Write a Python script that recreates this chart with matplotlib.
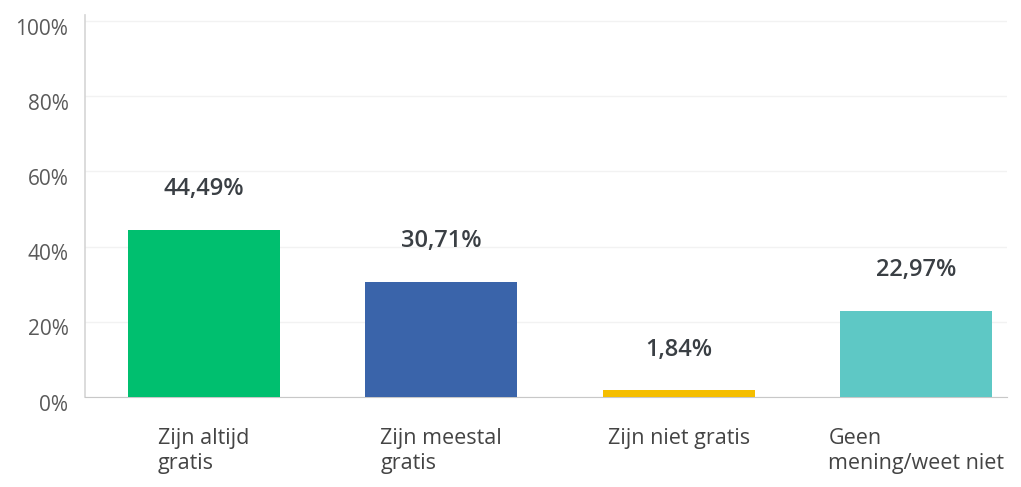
import matplotlib.pyplot as plt
import matplotlib.transforms as mtransforms

categories = ['Zijn altijd\ngratis', 'Zijn meestal\ngratis', 'Zijn niet gratis', 'Geen\nmening/weet niet']
values = [44.49, 30.71, 1.84, 22.97]
value_labels = ['44,49%', '30,71%', '1,84%', '22,97%']
colors = ['#00BF6F', '#3A64AA', '#F5BE00', '#5EC8C5']
y_ticks = [0, 20, 40, 60, 80, 100]


def main():
    plt.rcParams['font.family'] = ['Open Sans', 'DejaVu Sans']
    fig = plt.figure(figsize=(10.21, 4.87), dpi=100)
    ax = fig.add_axes([0.0833, 0.1848, 0.9026, 0.7836])

    x = list(range(len(categories)))
    ax.bar(x, values, width=0.64, color=colors, zorder=3)

    for xi, v, lab in zip(x, values, value_labels):
        ax.annotate(lab, (xi, v), xytext=(0, 29), textcoords='offset points',
                    ha='center', va='center', fontsize=17, fontweight='semibold',
                    color='#3A3F44')

    ax.set_xlim(-0.5, 3.38)
    ax.set_ylim(0, 101.5)
    ax.set_yticks(y_ticks)
    ax.set_yticklabels([f'{t}%' for t in y_ticks], fontsize=15, color='#5A5A5A')
    ax.set_xticks(x)
    ax.set_xticklabels(categories, fontsize=15.5, color='#444444',
                       multialignment='left', linespacing=1.3)
    ax.tick_params(axis='x', length=0, pad=22)
    ax.tick_params(axis='y', length=0, pad=12)

    # tick labels sit a little below the grid lines in the original
    offset = mtransforms.ScaledTranslation(0, -4 / 72, fig.dpi_scale_trans)
    for lbl in ax.get_yticklabels():
        lbl.set_transform(lbl.get_transform() + offset)

    ax.grid(axis='y', color='#F2F2F2', linewidth=1, zorder=0)
    for side in ['top', 'right']:
        ax.spines[side].set_visible(False)
    ax.spines['left'].set_color('#D5D5D5')
    ax.spines['bottom'].set_color('#C8C8C8')
    ax.spines['left'].set_linewidth(1.2)

    plt.savefig('out.png', dpi=100)


if __name__ == "__main__":
    main()
